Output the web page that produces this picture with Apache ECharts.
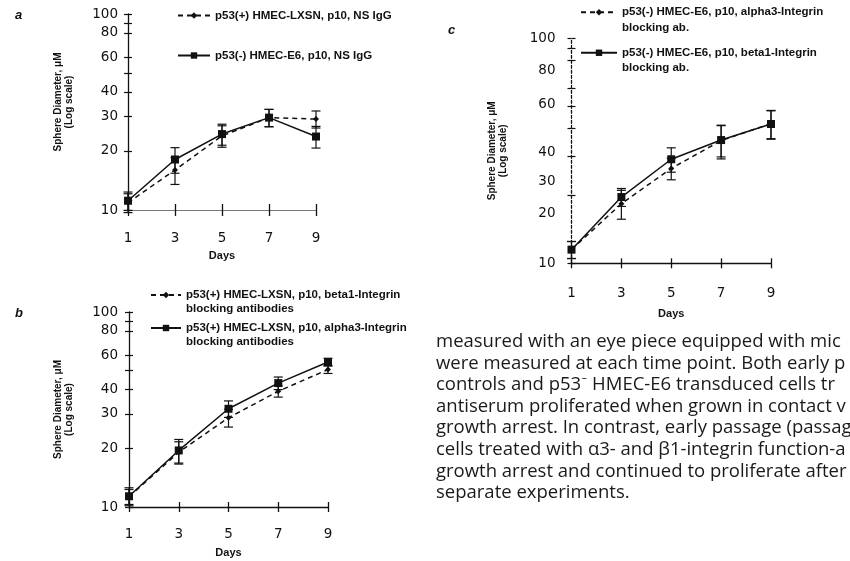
<!DOCTYPE html>
<html>
<head>
<meta charset="utf-8">
<script src="https://cdn.jsdelivr.net/npm/echarts@6/dist/echarts.min.js"></script>
<style>
  html, body { margin: 0; padding: 0; background: #fff; }
  #chart { width: 850px; height: 561px; }
</style>
</head>
<body>
<div id="chart"></div>
<script>
// Sampling days shared by all three panels
const days = [1, 3, 5, 7, 9];

// Log-scale y axis: tick marks and printed labels (µM)
const yTickValues = [10, 20, 30, 40, 50, 60, 80, 90, 100];
const yLabelValues = [10, 20, 30, 40, 60, 80, 100];
// Panel c prints its labels slightly off the tick marks; these are the axis values they sit at
const cLabelAt = [10, 16.7, 23.2, 31.2, 51, 71.6, 100];
const cLabelText = ['10', '20', '30', '40', '60', '80', '100'];

// Panel a: NS IgG controls
const aLxsnName = 'p53(+) HMEC-LXSN, p10, NS IgG';
const aLxsn = [10.9, 16.0, 23.9, 29.6, 29.1];
const aLxsnErr = [1.2, 2.5, 3.0, 3.0, 2.9];
const aE6Name = 'p53(-) HMEC-E6, p10, NS IgG';
const aE6 = [11.15, 18.1, 24.4, 29.6, 23.7];
const aE6Err = [1.2, 2.7, 3.0, 3.0, 3.0];

// Panel b: p53(+) cells with integrin blocking antibodies
const bBeta1Name = 'p53(+) HMEC-LXSN, p10, beta1-Integrin\nblocking antibodies';
const bBeta1 = [11.3, 19.1, 28.7, 39.2, 50.7];
const bBeta1Err = [1.0, 2.5, 3.0, 2.6, 2.3];
const bAlpha3Name = 'p53(+) HMEC-LXSN, p10, alpha3-Integrin\nblocking antibodies';
const bAlpha3 = [11.35, 19.5, 31.9, 43.2, 55.4];
const bAlpha3Err = [1.2, 2.7, 3.1, 3.2, 2.5];

// Panel c: p53(-) cells with integrin blocking antibodies
const cAlpha3Name = 'p53(-) HMEC-E6, p10, alpha3-Integrin\nblocking ab.';
const cAlpha3 = [11.5, 18.4, 26.4, 35.1, 41.8];
const cAlpha3Err = [1.0, 2.7, 2.9, 6.0, 6.0];
const cBeta1Name = 'p53(-) HMEC-E6, p10, beta1-Integrin\nblocking ab.';
const cBeta1 = [11.5, 19.7, 29.0, 35.3, 41.6];
const cBeta1Err = [1.0, 1.8, 3.6, 5.6, 6.0];

// Body text set beside panel b
const bodyLines = [
  'measured with an eye piece equipped with mic',
  'were measured at each time point. Both early p',
  'controls and p53\u207B HMEC-E6 transduced cells tr',
  'antiserum proliferated when grown in contact v',
  'growth arrest. In contrast, early passage (passag',
  'cells treated with \u03B13- and \u03B21-integrin function-a',
  'growth arrest and continued to proliferate after',
  'separate experiments.'
];

const INK = '#111';
const AXIS_FONT = '"Liberation Sans", Arial, sans-serif';
const TICK_FONT = '"DejaVu Sans", "Liberation Sans", sans-serif';

function pairs(vals) { return days.map((d, i) => [d, vals[i]]); }
function bars(vals, errs) { return days.map((d, i) => [d, vals[i] - errs[i], vals[i] + errs[i]]); }

function xAxesFor(gi, labelMargin, nameGap, faintLine) {
  return [
    {
      type: 'value', gridIndex: gi, min: 1, max: 9,
      name: 'Days', nameLocation: 'middle', nameGap: nameGap,
      nameTextStyle: { fontFamily: AXIS_FONT, fontWeight: 'bold', fontSize: 11, color: INK },
      axisLine: { show: true, lineStyle: faintLine ? { color: '#777', width: 1 } : { color: INK, width: 1.3 } },
      axisTick: { show: true, inside: false, length: faintLine ? 6 : 5, customValues: days, lineStyle: { color: INK, width: 1.3 } },
      axisLabel: { customValues: days, margin: labelMargin, fontFamily: TICK_FONT, fontSize: 13.5, color: INK },
      splitLine: { show: false }
    },
    {
      type: 'value', gridIndex: gi, min: 1, max: 9, position: 'bottom',
      axisLine: { show: false },
      axisTick: { show: true, inside: true, length: faintLine ? 6 : 5, customValues: days, lineStyle: { color: INK, width: 1.3 } },
      axisLabel: { show: false },
      splitLine: { show: false }
    }
  ];
}

function yAxesFor(gi, labelAt, labelText, labelMargin, nameGap, dotted, nameShift) {
  return [
    {
      type: 'log', logBase: 10, gridIndex: gi, min: 10, max: 100,
      name: 'Sphere Diameter, \u03BCM\n(Log scale)', nameLocation: 'middle', nameGap: nameGap, nameRotate: 90,
      nameTextStyle: {
        fontFamily: AXIS_FONT, fontWeight: 'bold', fontSize: 10, color: INK, lineHeight: 11,
        padding: [0, 0, 0, nameShift]
      },
      axisLine: { show: true, lineStyle: { color: INK, width: 1.3, type: dotted ? [3, 2] : 'solid' } },
      axisTick: { show: true, inside: false, length: 4, customValues: yTickValues, lineStyle: { color: INK, width: 1.2 } },
      axisLabel: {
        customValues: labelAt, margin: labelMargin, fontFamily: TICK_FONT, fontSize: 13.5, color: INK,
        formatter: v => { const k = labelAt.findIndex(t => Math.abs(t - v) < 1e-6); return k >= 0 ? labelText[k] : ''; }
      },
      splitLine: { show: false }
    },
    {
      type: 'log', logBase: 10, gridIndex: gi, min: 10, max: 100, position: 'left',
      axisLine: { show: false },
      axisTick: { show: true, inside: true, length: 4, customValues: yTickValues, lineStyle: { color: INK, width: 1.2 } },
      axisLabel: { show: false },
      splitLine: { show: false }
    }
  ];
}

function lineSeries(name, vals, axisIdx, dashed) {
  return {
    type: 'line', name: name, xAxisIndex: axisIdx, yAxisIndex: axisIdx,
    data: pairs(vals),
    symbol: dashed ? 'diamond' : 'rect', symbolSize: dashed ? 6 : 8,
    showSymbol: true,
    lineStyle: { color: INK, width: 1.5, type: dashed ? [5, 4] : 'solid' },
    itemStyle: { color: INK },
    z: 3
  };
}

function errorSeries(vals, errs, axisIdx) {
  return {
    type: 'custom', xAxisIndex: axisIdx, yAxisIndex: axisIdx,
    data: bars(vals, errs),
    encode: { x: 0, y: [1, 2] },
    silent: true, z: 4,
    renderItem: (params, api) => {
      const x = api.value(0);
      const top = api.coord([x, api.value(2)]);
      const bot = api.coord([x, api.value(1)]);
      const w = 4.5;
      const st = { stroke: INK, lineWidth: 1.2 };
      return {
        type: 'group',
        children: [
          { type: 'line', shape: { x1: top[0], y1: top[1], x2: bot[0], y2: bot[1] }, style: st },
          { type: 'line', shape: { x1: top[0] - w, y1: top[1], x2: top[0] + w, y2: top[1] }, style: st },
          { type: 'line', shape: { x1: bot[0] - w, y1: bot[1], x2: bot[0] + w, y2: bot[1] }, style: st }
        ]
      };
    }
  };
}

const legendText = { fontFamily: AXIS_FONT, fontWeight: 'bold', fontSize: 11.5, color: INK };
// Two-line legend entries: a blank leading line keeps the key level with the first line
const firstLineOnKey = name => '\n' + name;

const option = {
  backgroundColor: '#fff',
  animation: false,
  grid: [
    { left: 128, top: 14, width: 188, height: 196, outerBoundsMode: 'none' },
    { left: 129, top: 312, width: 199, height: 195, outerBoundsMode: 'none' },
    { left: 571.5, top: 38.3, width: 199.5, height: 225, outerBoundsMode: 'none' }
  ],
  xAxis: [
    ...xAxesFor(0, 21, 40, true),
    ...xAxesFor(1, 20, 40, false),
    ...xAxesFor(2, 23, 45, false)
  ],
  yAxis: [
    ...yAxesFor(0, yLabelValues, yLabelValues.map(String), 10, 53, false, 20),
    ...yAxesFor(1, yLabelValues, yLabelValues.map(String), 11, 54, false, 0),
    ...yAxesFor(2, cLabelAt, cLabelText, 16, 63, true, 0)
  ],
  legend: [
    {
      left: 177, top: 9, padding: 0, orient: 'vertical', itemWidth: 32, itemHeight: 8, itemGap: 27,
      data: [aLxsnName, aE6Name], textStyle: Object.assign({ lineHeight: 13 }, legendText),
      selectedMode: false
    },
    {
      left: 150, top: 274, padding: 0, orient: 'vertical', itemWidth: 30, itemHeight: 8, itemGap: -9,
      data: [bBeta1Name, bAlpha3Name], formatter: firstLineOnKey,
      textStyle: Object.assign({ lineHeight: 14 }, legendText),
      selectedMode: false
    },
    {
      left: 580, top: -11, padding: 0, orient: 'vertical', itemWidth: 36, itemHeight: 8, itemGap: -6,
      data: [cAlpha3Name, cBeta1Name], formatter: firstLineOnKey,
      textStyle: Object.assign({ lineHeight: 15.5 }, legendText),
      selectedMode: false
    }
  ],
  series: [
    lineSeries(aLxsnName, aLxsn, 0, true),
    lineSeries(aE6Name, aE6, 0, false),
    errorSeries(aLxsn, aLxsnErr, 0),
    errorSeries(aE6, aE6Err, 0),

    lineSeries(bBeta1Name, bBeta1, 2, true),
    lineSeries(bAlpha3Name, bAlpha3, 2, false),
    errorSeries(bBeta1, bBeta1Err, 2),
    errorSeries(bAlpha3, bAlpha3Err, 2),

    lineSeries(cAlpha3Name, cAlpha3, 4, true),
    lineSeries(cBeta1Name, cBeta1, 4, false),
    errorSeries(cAlpha3, cAlpha3Err, 4),
    errorSeries(cBeta1, cBeta1Err, 4)
  ],
  graphic: [
    { type: 'text', left: 15, top: 9, style: { text: 'a', font: 'italic bold 13px "Liberation Sans", Arial, sans-serif', fill: INK } },
    { type: 'text', left: 15, top: 307, style: { text: 'b', font: 'italic bold 13px "Liberation Sans", Arial, sans-serif', fill: INK } },
    { type: 'text', left: 448, top: 24, style: { text: 'c', font: 'italic bold 13px "Liberation Sans", Arial, sans-serif', fill: INK } },
    {
      type: 'text', left: 436, top: 331,
      style: { text: bodyLines.join('\n'), font: '18.5px "Open Sans", Lato, sans-serif', lineHeight: 21.6, fill: '#1a1a1a' }
    }
  ]
};

const chart = echarts.init(document.getElementById('chart'), null, { renderer: 'canvas' });
chart.setOption(option);
</script>
</body>
</html>
